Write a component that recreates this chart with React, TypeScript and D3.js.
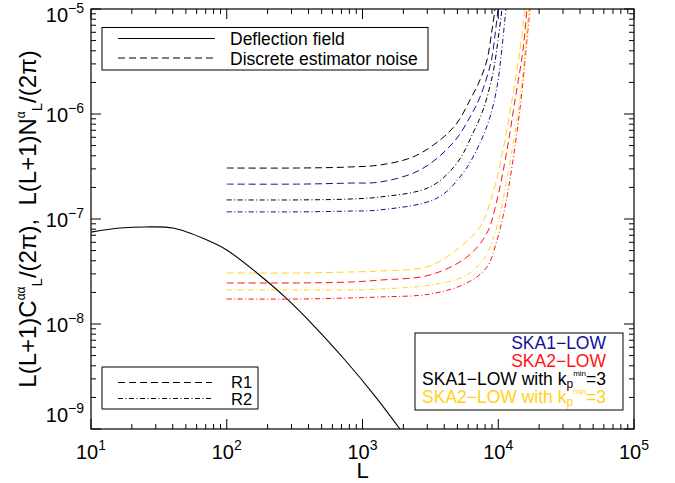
import React from 'react';
import * as d3 from 'd3';

// ---------- data ----------
const xDomain = [10, 1e5];
const yDomain = [1e-9, 1e-5];
const xTickExponents = ['1', '2', '3', '4', '5'];
const yTickExponents = ['−9', '−8', '−7', '−6', '−5'];

const deflectionL = [10, 16.4, 25, 40.2, 71.5, 100, 167, 268, 447, 743, 1236, 1888, 2240];
const deflectionV = [7.5e-8, 8.2e-8, 8.4e-8, 8.2e-8, 6.31e-8, 5.07e-8, 3.06e-8, 1.81e-8, 9.36e-9, 4.54e-9, 2.06e-9, 1.0e-9, 7.36e-10];

// SKA1-LOW with kp_min=3 (black)
const ska1kpR1L = [100, 346, 809, 1346, 2355, 3724, 4967, 6193, 7337, 8263, 8994, 9465, 9791];
const ska1kpR1V = [3.06e-7, 3.06e-7, 3.13e-7, 3.27e-7, 3.9e-7, 5.65e-7, 8.21e-7, 1.36e-6, 2.11e-6, 3.27e-6, 6.31e-6, 1.0e-5, 1.45e-5];
const ska1kpR2L = [100, 346, 809, 1346, 3143, 4967, 6516, 7721, 9149, 9958, 10656, 11025];
const ska1kpR2V = [1.52e-7, 1.52e-7, 1.55e-7, 1.62e-7, 2.02e-7, 3.41e-7, 6.59e-7, 1.09e-6, 2.46e-6, 5.07e-6, 1.0e-5, 1.45e-5];

// SKA1-LOW (blue)
const ska1R1L = [100, 346, 809, 1346, 2652, 4642, 6193, 7337, 8845, 9465, 9958, 10301];
const ska1R1V = [2.15e-7, 2.15e-7, 2.2e-7, 2.25e-7, 2.93e-7, 5.3e-7, 9.36e-7, 1.45e-6, 3.13e-6, 5.65e-6, 1.0e-5, 1.45e-5];
const ska1R2L = [100, 346, 809, 1346, 3538, 5500, 7337, 8696, 9791, 10478, 11405, 11800];
const ska1R2V = [1.17e-7, 1.17e-7, 1.19e-7, 1.22e-7, 1.58e-7, 2.74e-7, 5.3e-7, 9.36e-7, 1.81e-6, 3.49e-6, 1.0e-5, 1.45e-5];

// SKA2-LOW with kp_min=3 (yellow)
const ska2kpR1L = [100, 346, 809, 1346, 3143, 5227, 7337, 9149, 10839, 12630, 14460, 15740, 16290];
const ska2kpR1V = [3.06e-8, 3.06e-8, 3.13e-8, 3.2e-8, 3.57e-8, 5.41e-8, 8.39e-8, 1.77e-7, 4.54e-7, 1.36e-6, 4.07e-6, 1.0e-5, 1.45e-5];
const ska2kpR2L = [100, 346, 809, 1346, 3143, 5500, 7721, 9465, 10839, 12630, 14460, 15740, 16850, 17430];
const ska2kpR2V = [2.11e-8, 2.11e-8, 2.11e-8, 2.15e-8, 2.35e-8, 2.81e-8, 4.07e-8, 7.36e-8, 1.52e-7, 4.54e-7, 1.36e-6, 3.9e-6, 1.0e-5, 1.45e-5];

// SKA2-LOW (red)
const ska2R1L = [100, 346, 809, 1346, 3143, 5887, 8263, 9791, 11600, 13290, 15220, 16290, 16850];
const ska2R1V = [2.46e-8, 2.46e-8, 2.51e-8, 2.62e-8, 2.93e-8, 4.35e-8, 7.36e-8, 1.52e-7, 4.54e-7, 1.36e-6, 4.07e-6, 1.0e-5, 1.45e-5];
const ska2R2L = [100, 346, 809, 1346, 3143, 5887, 8263, 9791, 11213, 12847, 14710, 16010, 17140, 17730];
const ska2R2V = [1.73e-8, 1.73e-8, 1.77e-8, 1.81e-8, 1.93e-8, 2.46e-8, 3.49e-8, 6.31e-8, 1.3e-7, 3.65e-7, 1.36e-6, 4.07e-6, 1.0e-5, 1.45e-5];

// ---------- styles ----------
const W = 675;
const H = 483;
const PL = 91, PR = 634, PT = 9, PB = 429;
const FONT = 'Liberation Sans, Arial, Helvetica, sans-serif';
const BLACK = '#000000';
const BLUE = '#10109a';
const RED = '#ff1414';
const YELLOW = '#ffd21a';
const DASH = '7,4';
const DASHDOT = '5,2.5,1,2.5';

const series = [
  { L: ska1kpR1L, V: ska1kpR1V, color: BLACK, dash: DASH },
  { L: ska1R1L, V: ska1R1V, color: BLUE, dash: DASH },
  { L: ska1kpR2L, V: ska1kpR2V, color: BLACK, dash: DASHDOT },
  { L: ska1R2L, V: ska1R2V, color: BLUE, dash: DASHDOT },
  { L: ska2R1L, V: ska2R1V, color: RED, dash: DASH },
  { L: ska2kpR1L, V: ska2kpR1V, color: YELLOW, dash: DASH },
  { L: ska2R2L, V: ska2R2V, color: RED, dash: DASHDOT },
  { L: ska2kpR2L, V: ska2kpR2V, color: YELLOW, dash: DASHDOT },
];

const isMajor = (t: number) => Math.abs(Math.log10(t) - Math.round(Math.log10(t))) < 1e-6;

export default function App() {
  const x = d3.scaleLog().domain(xDomain).range([PL, PR]);
  const y = d3.scaleLog().domain(yDomain).range([PB, PT]);
  const mkLine = (L: number[], V: number[]) =>
    d3
      .line<number>()
      .x((_, i) => x(L[i]))
      .y((_, i) => y(V[i]))
      .curve(d3.curveCatmullRom.alpha(0.5))(V) || '';

  const xTicks = x.ticks();
  const yTicks = y.ticks();
  const xMajors = xTicks.filter(isMajor);
  const yMajors = yTicks.filter(isMajor);
  const MAJ = 10;
  const MIN = 5;

  return (
    <svg
      width={W}
      height={H}
      viewBox={`0 0 ${W} ${H}`}
      style={{ position: 'absolute', left: 0, top: 0, background: '#fff', fontFamily: FONT }}
    >
      <rect x={0} y={0} width={W} height={H} fill="#fff" />
      <defs>
        <clipPath id="plotClip">
          <rect x={PL} y={PT} width={PR - PL} height={PB - PT} />
        </clipPath>
      </defs>

      <g clipPath="url(#plotClip)">
        <path d={mkLine(deflectionL, deflectionV)} fill="none" stroke={BLACK} strokeWidth={1.1} />
        {series.map((s, i) => (
          <path key={i} d={mkLine(s.L, s.V)} fill="none" stroke={s.color} strokeWidth={1} strokeDasharray={s.dash} />
        ))}
      </g>

      {/* frame */}
      <rect x={PL} y={PT} width={PR - PL} height={PB - PT} fill="none" stroke={BLACK} strokeWidth={1.2} />

      {/* x ticks */}
      {xTicks.map((t, i) => {
        const len = isMajor(t) ? MAJ : MIN;
        const xx = x(t);
        return (
          <g key={'xt' + i} stroke={BLACK} strokeWidth={1}>
            <line x1={xx} x2={xx} y1={PB} y2={PB - len} />
            <line x1={xx} x2={xx} y1={PT} y2={PT + len} />
          </g>
        );
      })}
      {/* y ticks */}
      {yTicks.map((t, i) => {
        const len = isMajor(t) ? MAJ : MIN;
        const yy = y(t);
        return (
          <g key={'yt' + i} stroke={BLACK} strokeWidth={1}>
            <line x1={PL} x2={PL + len} y1={yy} y2={yy} />
            <line x1={PR} x2={PR - len} y1={yy} y2={yy} />
          </g>
        );
      })}

      {/* x tick labels */}
      {xMajors.map((t, i) => (
        <text key={'xl' + i} x={x(t)} y={459} textAnchor="middle" fontSize={20} fill={BLACK}>
          10
          <tspan fontSize={14} dy={-9}>
            {xTickExponents[i]}
          </tspan>
        </text>
      ))}
      {/* y tick labels */}
      {yMajors.map((t, i) => {
        const base = Math.min(Math.max(y(t) + 8, PT + 13), PB - 7);
        return (
          <text key={'yl' + i} x={84} y={base} textAnchor="end" fontSize={20} fill={BLACK}>
            10
            <tspan fontSize={14} dy={-9}>
              {yTickExponents[i]}
            </tspan>
          </text>
        );
      })}

      {/* axis titles */}
      <text x={(PL + PR) / 2} y={478} textAnchor="middle" fontSize={22} fill={BLACK}>
        L
      </text>
      <text
        transform={`translate(36,${(PT + PB) / 2}) rotate(-90)`}
        textAnchor="middle"
        fontSize={24}
        fill={BLACK}
        style={{ whiteSpace: 'pre' }}
      >
        L(L+1)C
        <tspan fontSize={12} dy={-11}>αα</tspan>
        <tspan fontSize={15} dy={17}>L</tspan>
        <tspan dy={-6}>/(2π),  L(L+1)N</tspan>
        <tspan fontSize={12} dy={-11}>α</tspan>
        <tspan fontSize={15} dy={17}>L</tspan>
        <tspan dy={-6}>/(2π)</tspan>
      </text>

      {/* legend: top-left */}
      <rect x={102} y={27.5} width={326} height={42.5} fill="#fff" stroke={BLACK} strokeWidth={1} />
      <line x1={118} x2={215} y1={38.5} y2={38.5} stroke={BLACK} strokeWidth={1} />
      <line x1={118} x2={215} y1={58} y2={58} stroke={BLACK} strokeWidth={1} strokeDasharray={DASH} />
      <text x={230} y={45} fontSize={17.5} fill={BLACK}>Deflection field</text>
      <text x={230} y={64.5} fontSize={17.5} fill={BLACK}>Discrete estimator noise</text>

      {/* legend: bottom-left */}
      <rect x={102} y={367} width={156} height={42} fill="#fff" stroke={BLACK} strokeWidth={1} />
      <line x1={118} x2={212} y1={382.5} y2={382.5} stroke={BLACK} strokeWidth={1} strokeDasharray={DASH} />
      <line x1={118} x2={212} y1={398.5} y2={398.5} stroke={BLACK} strokeWidth={1} strokeDasharray={DASHDOT} />
      <text x={231} y={387.5} fontSize={16.5} fill={BLACK}>R1</text>
      <text x={231} y={405} fontSize={16.5} fill={BLACK}>R2</text>

      {/* legend: bottom-right */}
      <rect x={415} y={333} width={208} height={77} fill="#fff" stroke={BLACK} strokeWidth={1} />
      <text x={606} y={349} textAnchor="end" fontSize={17.5} fill={BLUE}>SKA1−LOW</text>
      <text x={606} y={367.3} textAnchor="end" fontSize={17.5} fill={RED}>SKA2−LOW</text>
      <text x={606} y={385.3} textAnchor="end" fontSize={17.5} fill={BLACK}>
        SKA1−LOW with k
        <tspan fontSize={12} dy={3}>p</tspan>
        <tspan fontSize={8} dy={-12}>min</tspan>
        <tspan dy={9}>=3</tspan>
      </text>
      <text x={606} y={403.3} textAnchor="end" fontSize={17.5} fill={YELLOW}>
        SKA2−LOW with k
        <tspan fontSize={12} dy={3}>p</tspan>
        <tspan fontSize={8} dy={-12}>min</tspan>
        <tspan dy={9}>=3</tspan>
      </text>
    </svg>
  );
}
